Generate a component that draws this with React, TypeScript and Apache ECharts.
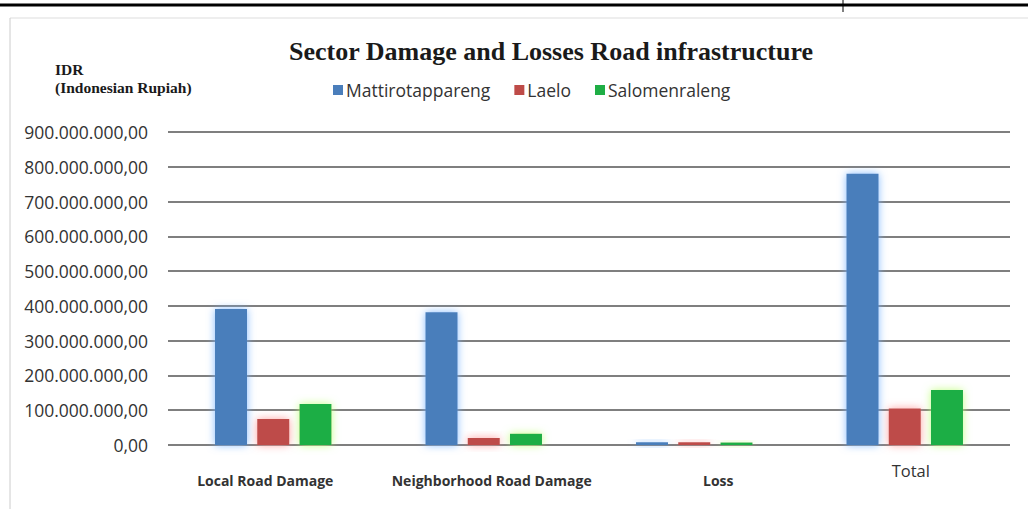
import React, { useEffect, useRef } from "react";
import * as echarts from "echarts";

const categories = ["Local Road Damage", "Neighborhood Road Damage", "Loss", "Total"];
const mattirotappareng = [391000000, 382000000, 8000000, 780000000];
const laelo = [75000000, 20000000, 8000000, 105000000];
const salomenraleng = [118000000, 32000000, 7000000, 158000000];
const seriesNames = ["Mattirotappareng", "Laelo", "Salomenraleng"];
const colors = ["#4a7ebb", "#be4b48", "#1fae45"];
const glows = ["rgba(120,180,255,0.9)", "rgba(255,150,150,0.9)", "rgba(190,255,120,0.9)"];

function fmt(v: number): string {
  const s = Math.round(v).toString().replace(/\B(?=(\d{3})+(?!\d))/g, ".");
  return s + ",00";
}

const labelStyleKey: Record<string, string> = {
  "Local Road Damage": "a",
  "Neighborhood Road Damage": "b",
  Loss: "c",
  Total: "t",
};

export default function App() {
  const ref = useRef<HTMLDivElement>(null);
  useEffect(() => {
    document.body.style.margin = "0";
    const chart = echarts.init(ref.current!, null, { renderer: "svg" });
    const data = [mattirotappareng, laelo, salomenraleng];
    const base = { fontFamily: "Open Sans", fontSize: 14, fontWeight: "bold", color: "#333", lineHeight: 40 };
    chart.setOption({
      animation: false,
      backgroundColor: "#ffffff",
      title: {
        text: "Sector Damage and Losses Road infrastructure",
        left: 546,
        textAlign: "center",
        top: 33,
        textStyle: { fontFamily: "Liberation Serif", fontWeight: "bold", fontSize: 26, color: "#1a1a1a" },
      },
      legend: {
        data: seriesNames,
        left: 328,
        top: 76,
        itemWidth: 10,
        itemHeight: 10,
        itemGap: 24,
        icon: "rect",
        textStyle: { fontFamily: "Open Sans", fontSize: 17.5, color: "#333", padding: [0, 0, 0, -2] },
      },
      grid: { left: 168, right: 18, top: 132, bottom: 64 },
      xAxis: {
        type: "category",
        data: categories,
        axisLine: { show: false },
        axisTick: { show: false },
        axisLabel: {
          interval: 0,
          margin: 15,
          ...base,
          formatter: (v: string) => "{" + labelStyleKey[v] + "|" + v + "}",
          rich: {
            a: { ...base, padding: [0, 16, 0, 0] },
            b: { ...base, padding: [0, 0, 0, 16] },
            c: { ...base, padding: [0, 0, 0, 48] },
            t: { fontFamily: "Open Sans", fontSize: 16.5, fontWeight: "normal", color: "#333", lineHeight: 20, padding: [0, 0, 0, 12] },
          },
        },
      },
      yAxis: {
        type: "value",
        min: 0,
        max: 900000000,
        interval: 100000000,
        axisLine: { show: false },
        axisTick: { show: false },
        axisLabel: {
          margin: 20,
          fontFamily: "Open Sans",
          fontSize: 17.5,
          color: "#333",
          formatter: (v: number) => fmt(v),
        },
        splitLine: { lineStyle: { color: "#555", width: 1.5 } },
      },
      series: seriesNames.map((name, i) => ({
        name,
        type: "bar",
        data: data[i],
        barWidth: 32,
        barGap: "32%",
        itemStyle: { color: colors[i], shadowColor: glows[i], shadowBlur: 8 },
      })),
      graphic: [
        { type: "line", shape: { x1: 0, y1: 5, x2: 1028, y2: 5 }, style: { stroke: "#000", lineWidth: 3 } },
        { type: "line", shape: { x1: 843, y1: 0, x2: 843, y2: 12 }, style: { stroke: "#000", lineWidth: 1 } },
        { type: "line", shape: { x1: 10, y1: 18, x2: 1028, y2: 18 }, style: { stroke: "#ddd", lineWidth: 1 } },
        { type: "line", shape: { x1: 10, y1: 18, x2: 10, y2: 509 }, style: { stroke: "#ccc", lineWidth: 1 } },
        {
          type: "text",
          left: 55,
          top: 61,
          style: { text: "IDR", fontFamily: "Liberation Serif", fontWeight: "bold", fontSize: 15.5, fill: "#1a1a1a" },
        },
        {
          type: "text",
          left: 55,
          top: 79,
          style: { text: "(Indonesian Rupiah)", fontFamily: "Liberation Serif", fontWeight: "bold", fontSize: 15.5, fill: "#1a1a1a" },
        },
      ],
    });
    return () => chart.dispose();
  }, []);
  return <div ref={ref} style={{ position: "fixed", left: 0, top: 0, width: 1028, height: 509 }} />;
}
